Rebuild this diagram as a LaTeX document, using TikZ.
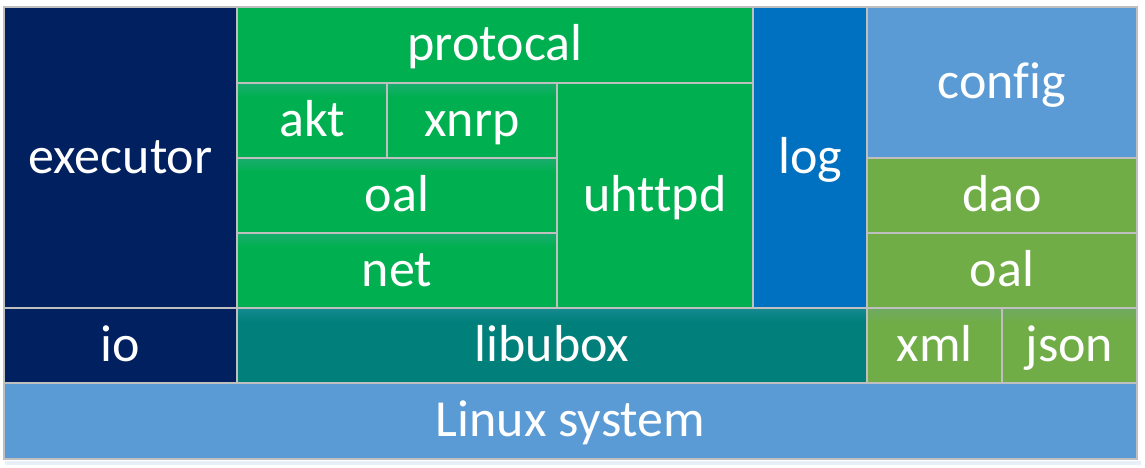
\documentclass[tikz,border=0pt]{standalone}
\usepackage{fontspec}
\setmainfont{Carlito}[Ligatures=NoCommon]
\definecolor{navy}{HTML}{002060}
\definecolor{grn}{HTML}{00B050}
\definecolor{grnlt}{HTML}{1AAD6E}
\definecolor{logblue}{HTML}{0070C0}
\definecolor{ltblue}{HTML}{5B9BD5}
\definecolor{olive}{HTML}{70AD47}
\definecolor{olivelt}{HTML}{6FAA63}
\definecolor{teal2}{HTML}{007F7B}
\definecolor{teallt}{HTML}{168A90}
\definecolor{edge}{HTML}{BFBFBF}
\tikzset{
  blk/.style={draw=edge,line width=1.3pt},
  lbl/.style={text=white,font=\fontsize{52}{60}\selectfont,inner sep=0pt,
    text height=42pt,text depth=11pt}
}
\begin{document}
\begin{tikzpicture}[x=1pt,y=-1pt]
    \useasboundingbox (0,0) rectangle (1145,467);
    %sombra base
    \fill[ltblue!15] (5,461) rectangle (1141,465);

    %Bloques
    \foreach \n/\xa/\ya/\xb/\yb/\c/\t in {
        executor/4/7/237/308/navy/executor,
        io/4/308/237/383/navy/io,
        protocal/237/7/753/83/grn/protocal,
        akt/237/83/387/158/grn/akt,
        xnrp/387/83/557/158/grn/xnrp,
        oalA/237/158/557/233/grn/oal,
        net/237/233/557/308/grn/net,
        uhttpd/557/83/753/308/grn/uhttpd,
        log/753/7/867/308/logblue/log,
        config/867/7/1137/158/ltblue/config,
        dao/867/158/1137/233/olive/dao,
        oalB/867/233/1137/308/olive/oal,
        libubox/237/308/867/383/teal2/libubox,
        xml/867/308/1002/383/olive/xml,
        json/1002/308/1137/383/olive/json,
        linux/4/383/1137/459/ltblue/Linux system}{
        \fill[\c] (\xa,\ya) rectangle (\xb,\yb);
    }

    %Brillo superior
    \foreach \xa/\ya/\xb/\c/\d in {237/83/557/grnlt/grn,237/158/557/grnlt/grn,
        237/233/557/grnlt/grn,237/308/867/teallt/teal2,867/308/1137/olivelt/olive}{
        \shade[top color=\c,bottom color=\d] (\xa,\ya) rectangle (\xb,\ya+14);
    }

    %Bordes y textos
    \foreach \n/\xa/\ya/\xb/\yb/\t in {
        executor/4/7/237/308/executor,
        io/4/308/237/383/io,
        protocal/237/7/753/83/protocal,
        akt/237/83/387/158/akt,
        xnrp/387/83/557/158/xnrp,
        oalA/237/158/557/233/oal,
        net/237/233/557/308/net,
        uhttpd/557/83/753/308/uhttpd,
        log/753/7/867/308/log,
        config/867/7/1137/158/config,
        dao/867/158/1137/233/dao,
        oalB/867/233/1137/308/oal,
        libubox/237/308/867/383/libubox,
        xml/867/308/1002/383/xml,
        json/1002/308/1137/383/json,
        linux/4/383/1137/459/Linux system}{
        \draw[blk] (\xa,\ya) rectangle (\xb,\yb);
        \node[lbl] (\n) at ({(\xa+\xb)/2},{(\ya+\yb)/2}) {\t};
    }
\end{tikzpicture}
\end{document}
